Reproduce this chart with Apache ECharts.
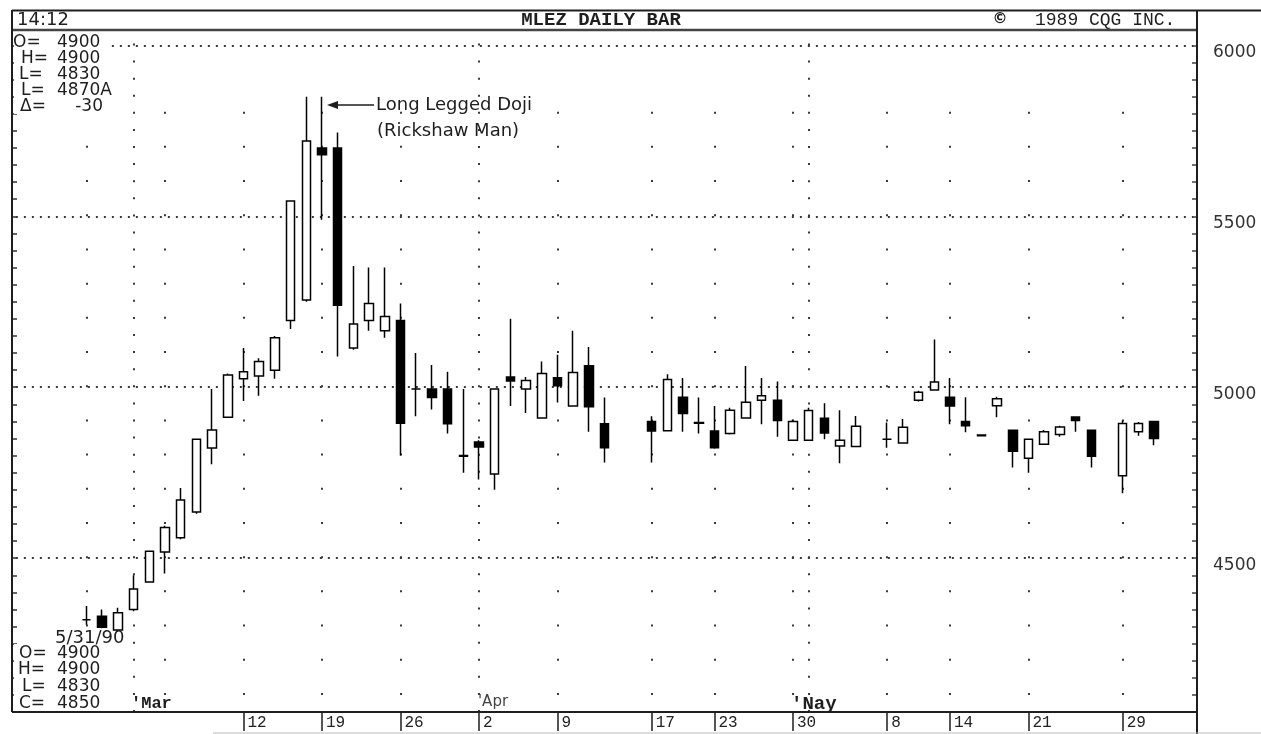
<!DOCTYPE html>
<html><head><meta charset="utf-8">
<script src="https://cdn.jsdelivr.net/npm/echarts@6/dist/echarts.min.js"></script>
<style>html,body{margin:0;padding:0;background:#fff}#c{width:1261px;height:734px}</style>
</head><body><div id="c"></div>
<script>
// ---- data ----
const dates = ['2/20','2/21','2/22','2/23',
 '2/26','2/27','2/28','3/1','3/2',
 '3/5','3/6','3/7','3/8','3/9',
 '3/12','3/13','3/14','3/15','3/16',
 '3/19','3/20','3/21','3/22','3/23',
 '3/26','3/27','3/28','3/29','3/30',
 '4/2','4/3','4/4','4/5','4/6',
 '4/9','4/10','4/11','4/12','4/13',
 '4/16','4/17','4/18','4/19','4/20',
 '4/23','4/24','4/25','4/26','4/27',
 '4/30','5/1','5/2','5/3','5/4',
 '5/7','5/8','5/9','5/10','5/11',
 '5/14','5/15','5/16','5/17','5/18',
 '5/21','5/22','5/23','5/24','5/25',
 '5/28','5/29','5/30','5/31',
 '6/1','6/4'];
const opens = [null,null,null,null,
 4320,4330,4290,4350,4430,
 4518,4560,4635,4822,4912,
 5025,5033,5050,5195,5255,
 5700,5700,5115,5195,5165,
 5195,4995,4995,4995,4800,
 4840,4746,5030,4995,4910,
 5028,4945,5063,4893,null,
 null,4900,4873,4971,4897,
 4872,4865,4910,4962,4962,
 4845,4845,4909,4828,4827,
 null,4848,4837,4962,4992,
 4971,4900,4860,4946,4874,
 4792,4833,4862,4913,4874,
 null,4741,4870,4900,
 null,null];
const highs = [null,null,null,null,
 4360,4350,4355,4450,4522,
 4595,4705,4850,4995,5040,
 5115,5085,5150,5545,5850,
 5850,5745,5355,5350,5350,
 5245,5100,5065,5045,4995,
 4845,4995,5200,5030,5075,
 5095,5165,5118,4970,null,
 null,4915,5038,5027,4970,
 4945,4940,5062,5027,5017,
 4905,4940,4953,4933,4916,
 null,4897,4907,4990,5140,
 5027,4971,4860,4972,4876,
 4850,4875,4887,4915,4876,
 null,4903,4898,4900,
 null,null];
const lows = [null,null,null,null,
 4305,4295,4285,4345,4428,
 4455,4555,4630,4775,4910,
 4960,4975,5025,5170,5250,
 5490,5090,5110,5165,5145,
 4800,4915,4935,4865,4750,
 4730,4700,4945,4925,4910,
 4955,4945,4870,4780,null,
 null,4780,4873,4870,4865,
 4820,4862,4908,4892,4855,
 4845,4845,4848,4778,4825,
 null,4823,4835,4958,4990,
 4892,4868,4857,4912,4765,
 4750,4833,4855,4870,4765,
 null,4690,4858,4830,
 null,null];
const closes = [null,null,null,null,
 4320,4298,4340,4410,4520,
 4590,4670,4848,4875,5036,
 5045,5075,5145,5545,5720,
 5680,5240,5185,5245,5207,
 4895,4995,4970,4893,4798,
 4825,4995,5018,5020,5040,
 5004,5043,4943,4823,null,
 null,4872,5023,4923,4895,
 4823,4933,4956,4975,4903,
 4900,4932,4866,4845,4886,
 null,4848,4883,4985,5015,
 4945,4887,4858,4966,4813,
 4848,4870,4884,4903,4798,
 null,4894,4894,4850,
 null,null];
const tickDates  = ['3/12','3/19','3/26','4/2','4/9','4/17','4/23','4/30','5/8','5/14','5/21','5/29'];
const tickLabels = ['12','19','26','2','9','17','23','30','8','14','21','29'];
const weekCols   = ['2/26','3/5','3/12','3/19','3/26','4/9','4/17','4/23','4/30','5/8','5/14','5/21','5/29'];
const monthCols  = ['3/1','4/2','5/1'];
const priceLines = [4500,5000,5500,6000];
const priceLabels = [4500,5000,5500,6000];

// ---- build ----
const Y_MIN = 4050, Y_MAX = 6045;
const candle = dates.map((d,i)=> opens[i]==null ? '-' : [opens[i], closes[i], lows[i], highs[i]]);
const labelOf = {}; tickDates.forEach((d,i)=>labelOf[d]=tickLabels[i]);
const isTick = (idx, val) => labelOf[val] !== undefined;
const dotColor = '#3a3a3a';
const ml = [];
priceLines.forEach(v=>ml.push({yAxis:v, lineStyle:{type:[2,6],width:2,color:dotColor}}));
weekCols.forEach(d=>ml.push([{coord:[d,4100], lineStyle:{type:[2,32.19],width:2,color:dotColor}},{coord:[d,5900]}]));
monthCols.forEach(d=>ml.push([{coord:[d,4050], lineStyle:{type:[2,15.09],width:2,color:dotColor}},{coord:[d,6045]}]));

const W = 15.7, L = 15.85;
const chart = echarts.init(document.getElementById('c'));
const txt = (text,x,y,font,opts={}) => Object.assign({type:'text', z:100, style:Object.assign({text, x, y, font, fill:'#1e1e1e', align:'left', verticalAlign:'middle'}, opts)});
const ln = (x1,y1,x2,y2,w,c) => ({type:'line', z:100, shape:{x1,y1,x2,y2}, style:{stroke:c||'#1e1e1e', lineWidth:w}});
const box = (x,y,w,h) => ({type:'rect', z:90, shape:{x,y,width:w,height:h}, style:{fill:'#fff'}});
const sans = '"DejaVu Sans"';
chart.setOption({
  animation:false,
  backgroundColor:'#fff',
  grid:{left:L, width:W*dates.length, top:30, bottom:22, containLabel:false},
  xAxis:{type:'category', data:dates, boundaryGap:true,
    axisLine:{show:false},
    axisTick:{show:true, alignWithLabel:true, interval:isTick, length:19, lineStyle:{color:'#1e1e1e', width:1.5}},
    axisLabel:{interval:isTick, formatter:v=>labelOf[v]||'', align:'left', verticalAlign:'top', padding:[0,0,0,4], margin:3,
      fontFamily:'"Liberation Mono"', fontSize:16, color:'#222'},
    splitLine:{show:false}},
  yAxis:[
    {type:'value', position:'left', offset:3.85, min:Y_MIN, max:Y_MAX, interval:50, scale:true,
     axisLine:{show:false}, axisTick:{show:true, inside:true, length:5, lineStyle:{color:'#333', width:1.5}},
     axisLabel:{show:false}, splitLine:{show:false}},
    {type:'value', position:'right', offset:3.65, min:Y_MIN, max:Y_MAX, interval:50, scale:true,
     axisLine:{show:false}, axisTick:{show:true, inside:true, length:5, lineStyle:{color:'#444', width:1.5}},
     axisLabel:{formatter:v=>priceLabels.includes(v)?String(v):'', margin:16, verticalAlign:'top', lineHeight:14,
       fontFamily:sans, fontSize:17, color:'#333'},
     splitLine:{show:false}}
  ],
  series:[{
    type:'candlestick', data:candle, barWidth:9, yAxisIndex:0, silent:true,
    itemStyle:{color:'#fff', color0:'#000', borderColor:'#000', borderColor0:'#000', borderWidth:1.5},
    markLine:{silent:true, symbol:'none', label:{show:false}, emphasis:{disabled:true}, data:ml, z:1},
    z:5
  }],
  graphic:[
    box(14,32,96,82),
    box(14,644,92,66),
    ln(12,10.5,1261,10.5,2),
    ln(12,30,1197,30,2.5,'#444'),
    ln(12,10,12,712,2),
    ln(12,712,1197,712,2),
    ln(1197,10,1197,734,2),
    ln(213,733,1261,733,1,'#bbb'),
    txt('14:12',17,20,'18px '+sans),
    txt('MLEZ DAILY BAR',601,20,'bold 19px "Liberation Mono"',{align:'center'}),
    txt('©',1000,19,'bold 15px '+sans,{align:'center'}),
    txt('1989 CQG INC.',1035,20,'18px "Liberation Mono"'),
    txt('O=',13,43,'17px '+sans), txt('4900',57,43,'17px '+sans),
    txt('H=',21,59,'17px '+sans), txt('4900',57,59,'17px '+sans),
    txt('L=',19,75,'17px '+sans), txt('4830',57,75,'17px '+sans),
    txt('L=',21,91,'17px '+sans), txt('4870A',57,91,'17px '+sans),
    txt('Δ=',20,107,'17px '+sans), txt('-30',103,107,'17px '+sans,{align:'right'}),
    txt('5/31/90',55,638,'18px '+sans),
    txt('O=',19,654,'17px '+sans), txt('4900',57,654,'17px '+sans),
    txt('H=',18,670,'17px '+sans), txt('4900',57,670,'17px '+sans),
    txt('L=',22,687,'17px '+sans), txt('4830',57,687,'17px '+sans),
    txt('C=',19,704,'17px '+sans), txt('4850',57,704,'17px '+sans),
    txt("'Mar",131,704,'bold 17px "Liberation Mono"'),
    txt("'Apr",478,702,'15px '+sans,{fill:'#444'}),
    txt("'Nay",791,704,'bold 19px "Liberation Mono"'),
    txt('Long Legged Doji',376,105,'18px '+sans),
    txt('(Rickshaw Man)',377,131,'18px '+sans),
    ln(334,105,374,105,1.5),
    {type:'polygon', z:100, shape:{points:[[327,105],[338,101],[338,109]]}, style:{fill:'#1e1e1e'}}
  ]
});
</script></body></html>
